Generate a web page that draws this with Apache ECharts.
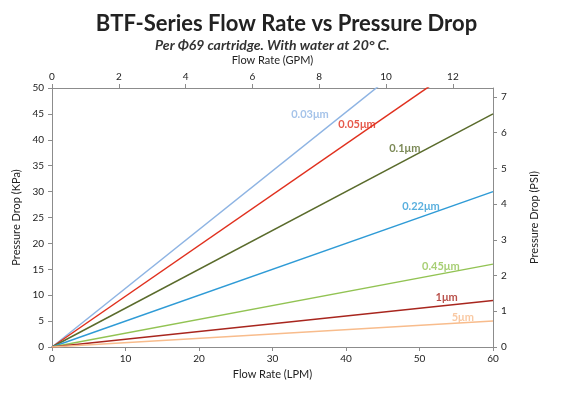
<!DOCTYPE html>
<html>
<head>
<meta charset="utf-8">
<script src="https://cdn.jsdelivr.net/npm/echarts@6/dist/echarts.min.js"></script>
<style>
  html, body { margin: 0; padding: 0; background: #fff; }
  #chart { width: 573px; height: 398px; }
</style>
</head>
<body>
<div id="chart"></div>
<script>
// 滤芯规格
const grades = ['0.03μm', '0.05μm', '0.1μm', '0.22μm', '0.45μm', '1μm', '5μm'];
// 流量 (LPM)
const flowLPM = [0, 60];
// 各规格压降 (KPa)，对应 flowLPM
const dropKPa = [
    [0, 68],
    [0, 58.8],
    [0, 45],
    [0, 30],
    [0, 16],
    [0, 9],
    [0, 5]
];
// 标签所在位置 [LPM, KPa]
const labelAt = [
    [35.1, 44.8],
    [41.5, 43.0],
    [48.0, 38.4],
    [50.2, 27.2],
    [52.9, 15.6],
    [53.7, 9.6],
    [55.9, 5.8]
];
const colors = ['#8EB4E3', '#E0301E', '#5A6B2C', '#2F9BD6', '#92C353', '#A8261E', '#F8BC8C'];

const fontFam = 'Lato, "Open Sans", sans-serif';
const axisColor = '#8c8c8c';

const chart = echarts.init(document.getElementById('chart'));

const series = grades.map((g, i) => ({
    name: g,
    type: 'line',
    xAxisIndex: 0,
    yAxisIndex: 0,
    data: flowLPM.map((x, k) => [x, dropKPa[i][k]]),
    showSymbol: false,
    symbol: 'none',
    lineStyle: { color: colors[i], width: 1.5 },
    clip: true
}));

// 规格标签
series.push({
    type: 'scatter',
    xAxisIndex: 0,
    yAxisIndex: 0,
    symbolSize: 1,
    itemStyle: { color: 'rgba(0,0,0,0)' },
    silent: true,
    data: grades.map((g, i) => ({
        value: labelAt[i],
        label: {
            show: true,
            position: 'inside',
            formatter: g,
            color: colors[i],
            fontFamily: fontFam,
            fontWeight: 'bold',
            fontSize: 11
        }
    }))
});

const axisLineStyle = { show: true, onZero: false, lineStyle: { color: axisColor } };
const tickStyle = { show: true, length: 4, lineStyle: { color: axisColor } };

const option = {
    backgroundColor: '#fff',
    animation: false,
    title: [
        {
            text: 'BTF-Series Flow Rate vs Pressure Drop',
            left: 'center',
            top: 8,
            textStyle: { fontFamily: fontFam, fontSize: 22, fontWeight: 'bold', color: '#222' }
        },
        {
            text: 'Per Φ69 cartridge. With water at 20° C.',
            left: 150,
            top: 33,
            textStyle: { fontFamily: fontFam, fontSize: 14, fontWeight: 'bold', fontStyle: 'italic', color: '#333' }
        }
    ],
    grid: { left: 52, right: 80, top: 88, bottom: 51 },
    xAxis: [
        {
            type: 'value',
            position: 'bottom',
            min: 0, max: 60, interval: 10,
            name: 'Flow Rate (LPM)',
            nameLocation: 'middle',
            nameGap: 15,
            nameTextStyle: { fontFamily: fontFam, fontSize: 11, color: '#222' },
            splitLine: { show: false },
            axisLine: axisLineStyle,
            axisTick: tickStyle,
            axisLabel: { fontFamily: fontFam, fontSize: 10, color: '#222', margin: 7 }
        },
        {
            type: 'value',
            position: 'top',
            min: 0, max: 13.2, interval: 2,
            name: 'Flow Rate (GPM)',
            nameLocation: 'middle',
            nameGap: 22,
            nameTextStyle: { fontFamily: fontFam, fontSize: 11, color: '#222' },
            splitLine: { show: false },
            axisLine: axisLineStyle,
            axisTick: tickStyle,
            axisLabel: { fontFamily: fontFam, fontSize: 10, color: '#222', margin: 6, showMaxLabel: false }
        }
    ],
    yAxis: [
        {
            type: 'value',
            position: 'left',
            min: 0, max: 50, interval: 5,
            name: 'Pressure Drop (KPa)',
            nameLocation: 'middle',
            nameGap: 22,
            nameTextStyle: { fontFamily: fontFam, fontSize: 11, color: '#222' },
            splitLine: { show: false },
            axisLine: axisLineStyle,
            axisTick: tickStyle,
            axisLabel: { fontFamily: fontFam, fontSize: 10, color: '#222', margin: 8 }
        },
        {
            type: 'value',
            position: 'right',
            min: 0, max: 7.25, interval: 1,
            name: 'Pressure Drop (PSI)',
            nameLocation: 'middle',
            nameGap: 36,
            nameRotate: 90,
            nameTextStyle: { fontFamily: fontFam, fontSize: 11, color: '#222' },
            splitLine: { show: false },
            axisLine: axisLineStyle,
            axisTick: tickStyle,
            axisLabel: { fontFamily: fontFam, fontSize: 10, color: '#222', margin: 8, showMaxLabel: false }
        }
    ],
    series: series
};

chart.setOption(option);
</script>
</body>
</html>
